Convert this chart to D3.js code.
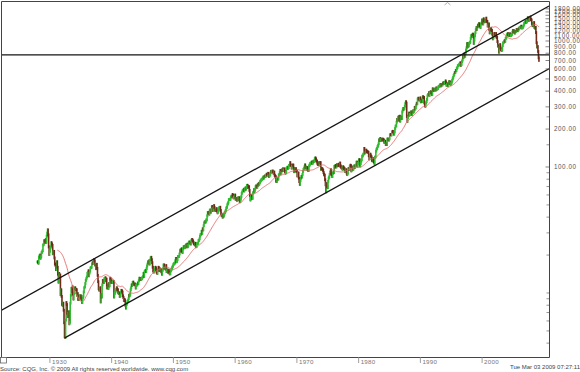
<!DOCTYPE html>
<html>
<head>
<meta charset="utf-8">
<script src="https://cdn.jsdelivr.net/npm/d3@7"></script>
<style>
  body { margin: 0; background: #fff; }
  text { font-family: "Liberation Sans", Arial, sans-serif; }
</style>
</head>
<body>
<svg id="chart" width="580" height="372"></svg>
<script>
// monthly closes, first value is Dec 1927
const close1920s = [17.66,
  17.57, 17.26, 19.28, 19.75, 20.0, 18.9, 19.4, 20.9, 21.2, 21.7, 24.0, 24.35,
  26.0, 25.9, 25.3, 26.5, 25.3, 28.3, 29.9, 31.7, 29.0, 23.2, 20.2, 21.45];
const close1930s = [
  22.8, 23.3, 25.1, 24.5, 23.9, 20.5, 21.2, 21.4, 19.0, 17.0, 16.6, 15.34,
  16.0, 17.7, 16.0, 14.1, 12.2, 14.3, 13.6, 13.9, 9.7, 10.6, 9.4, 8.12,
  8.0, 8.3, 7.3, 5.8, 4.5, 4.43, 6.1, 8.4, 8.1, 6.9, 6.5, 6.89,
  7.1, 5.7, 5.85, 8.3, 9.6, 10.9, 10.3, 11.2, 9.8, 8.96, 9.9, 10.1,
  11.0, 10.7, 10.7, 10.6, 9.6, 9.9, 8.9, 9.5, 8.9, 9.1, 9.5, 9.5,
  9.1, 8.9, 8.4, 9.1, 9.4, 10.2, 11.0, 11.2, 11.9, 12.6, 13.0, 13.4,
  14.3, 14.6, 15.0, 13.7, 14.4, 14.9, 15.8, 15.9, 16.0, 17.0, 17.4, 17.2,
  18.0, 18.4, 18.0, 16.7, 16.7, 15.6, 16.9, 15.7, 13.8, 12.3, 10.8, 10.55,
  10.9, 11.0, 8.5, 9.7, 9.3, 11.6, 12.6, 12.3, 12.1, 13.0, 13.1, 13.2,
  12.5, 12.9, 10.98, 11.0, 11.6, 10.9, 11.9, 11.4, 13.0, 12.9, 12.2, 12.5];
const close1940s = [
  12.1, 12.2, 12.2, 12.3, 9.3, 9.9, 10.2, 10.4, 10.7, 11.0, 10.7, 10.6,
  10.1, 9.9, 10.0, 9.4, 9.5, 10.0, 10.5, 10.4, 10.2, 9.5, 9.2, 8.7,
  8.9, 8.7, 8.0, 7.6, 8.1, 8.3, 8.6, 8.7, 9.0, 9.6, 9.5, 9.8,
  10.6, 11.0, 11.6, 11.5, 12.1, 12.2, 11.8, 11.7, 11.8, 11.6, 10.96, 11.5,
  11.6, 11.6, 12.0, 11.9, 12.5, 13.1, 12.9, 13.0, 12.8, 12.9, 13.0, 13.3,
  13.5, 14.3, 13.5, 14.7, 14.9, 15.1, 14.8, 15.6, 16.4, 17.0, 17.7, 17.4,
  18.0, 17.0, 18.2, 19.0, 19.2, 18.4, 17.4, 16.0, 14.96, 14.7, 14.7, 15.3,
  16.0, 15.8, 15.2, 14.6, 14.3, 15.2, 16.0, 15.8, 15.1, 15.5, 15.0, 15.3,
  14.7, 14.1, 15.1, 15.5, 16.7, 16.7, 15.8, 15.8, 15.5, 16.5, 14.8, 15.2,
  15.2, 14.6, 15.1, 14.7, 14.2, 14.2, 15.0, 15.3, 15.6, 16.0, 16.3, 16.8];
const close1950s = [
  17.0, 17.2, 17.3, 18.0, 18.8, 17.7, 17.8, 18.4, 19.5, 19.5, 19.5, 20.4,
  21.7, 22.0, 21.5, 22.4, 21.5, 21.0, 22.4, 23.3, 23.3, 22.9, 22.9, 23.8,
  24.1, 23.3, 24.4, 23.3, 23.9, 25.0, 25.4, 25.0, 25.0, 24.5, 26.0, 26.6,
  26.4, 25.9, 25.3, 24.6, 24.5, 24.1, 24.8, 23.3, 23.4, 24.5, 24.8, 24.8,
  26.1, 26.2, 26.9, 28.3, 29.2, 29.2, 30.9, 29.8, 32.3, 31.7, 34.2, 36.0,
  36.6, 36.8, 36.6, 38.0, 38.0, 41.0, 43.5, 43.2, 43.7, 42.3, 45.5, 45.5,
  43.8, 45.3, 48.5, 48.4, 45.2, 47.0, 49.4, 47.5, 45.4, 45.6, 45.1, 46.7,
  44.7, 43.3, 44.1, 45.7, 47.4, 47.4, 47.9, 45.2, 42.4, 41.1, 41.7, 40.0,
  41.7, 40.8, 42.1, 43.4, 44.1, 45.2, 47.2, 47.8, 50.1, 51.3, 52.5, 55.2,
  55.4, 55.4, 55.4, 57.6, 58.7, 58.5, 60.5, 59.6, 56.9, 57.5, 58.3, 59.9];
const close1960s = [
  55.6, 56.1, 55.3, 54.4, 55.8, 56.9, 55.5, 57.0, 53.5, 53.4, 55.5, 58.1,
  61.8, 63.4, 65.1, 65.3, 66.6, 64.6, 66.8, 68.1, 66.7, 68.6, 71.3, 71.6,
  68.8, 70.0, 69.6, 65.2, 59.6, 54.8, 58.2, 59.1, 56.3, 56.5, 62.3, 63.1,
  66.2, 64.3, 66.6, 69.8, 70.8, 69.4, 69.1, 72.5, 71.7, 74.0, 73.2, 75.0,
  77.0, 77.8, 79.0, 79.5, 80.4, 81.7, 83.2, 81.8, 84.2, 84.9, 84.4, 84.8,
  87.6, 87.4, 86.2, 89.1, 88.4, 84.1, 85.3, 87.2, 90.0, 92.4, 91.6, 92.4,
  92.9, 91.2, 89.2, 91.1, 86.1, 84.7, 83.6, 77.1, 76.6, 80.2, 80.5, 80.3,
  86.6, 86.8, 90.2, 94.0, 89.1, 90.6, 94.8, 93.6, 96.7, 93.9, 94.0, 96.5,
  92.2, 89.4, 90.2, 97.6, 98.7, 99.6, 97.7, 98.9, 102.9, 103.4, 108.4, 103.9,
  103.0, 98.1, 101.5, 103.7, 103.5, 97.7, 91.8, 95.5, 93.1, 97.1, 93.8, 92.1];
const close1970s = [
  85.0, 89.5, 89.6, 81.5, 76.6, 72.7, 78.1, 81.5, 84.3, 83.3, 87.2, 92.2,
  95.9, 97.0, 100.3, 103.9, 99.6, 99.7, 95.6, 99.0, 98.3, 94.2, 94.0, 102.1,
  103.9, 106.6, 107.2, 107.7, 109.5, 107.1, 107.4, 111.1, 110.6, 111.6, 116.7, 118.1,
  116.0, 111.7, 111.5, 107.0, 105.0, 104.3, 108.2, 104.3, 108.4, 108.3, 96.0, 97.6,
  96.6, 96.2, 94.0, 90.3, 87.3, 86.0, 79.3, 72.2, 63.5, 73.9, 70.0, 68.6,
  77.0, 81.6, 83.4, 87.3, 91.2, 95.2, 88.8, 86.9, 83.9, 89.0, 91.2, 90.2,
  100.9, 99.7, 102.8, 101.6, 100.2, 104.3, 103.4, 102.9, 105.2, 102.9, 102.1, 107.5,
  102.0, 99.8, 98.4, 98.4, 96.1, 100.5, 98.9, 96.8, 96.5, 92.3, 94.8, 95.1,
  89.3, 87.0, 89.2, 96.8, 97.2, 95.5, 100.7, 103.3, 102.5, 93.2, 94.7, 96.1,
  99.9, 96.3, 101.6, 101.8, 99.1, 102.9, 103.8, 109.3, 109.3, 101.8, 106.2, 107.9];
const close1980s = [
  114.2, 113.7, 102.1, 106.3, 111.2, 114.2, 121.7, 122.4, 125.5, 127.5, 140.5, 135.8,
  129.6, 131.3, 136.0, 132.8, 132.6, 131.2, 130.9, 122.8, 116.2, 121.9, 126.4, 122.6,
  120.4, 113.1, 112.0, 116.4, 111.9, 109.6, 107.1, 119.5, 120.4, 133.7, 138.5, 140.6,
  145.3, 148.1, 153.0, 164.4, 162.4, 168.1, 162.6, 164.4, 166.1, 163.6, 166.4, 164.9,
  163.4, 157.1, 159.2, 160.1, 150.6, 153.2, 150.7, 166.7, 166.1, 166.1, 163.6, 167.2,
  179.6, 181.2, 180.7, 179.8, 189.6, 191.9, 190.9, 188.6, 182.1, 189.8, 202.2, 211.3,
  211.8, 226.9, 238.9, 235.5, 247.4, 250.8, 236.1, 252.9, 231.3, 244.0, 249.2, 242.2,
  274.1, 284.2, 291.7, 288.4, 290.1, 304.0, 318.7, 329.8, 321.8, 251.8, 230.3, 247.1,
  257.1, 267.8, 258.9, 261.3, 262.2, 273.5, 272.0, 261.5, 271.9, 279.0, 273.7, 277.7,
  297.5, 288.9, 294.9, 309.6, 320.5, 318.0, 346.1, 351.5, 349.2, 340.4, 346.0, 353.4];
const close1990s = [
  329.1, 331.9, 339.9, 330.8, 361.2, 358.0, 356.2, 322.6, 306.1, 304.0, 322.2, 330.2,
  343.9, 367.1, 375.2, 375.3, 389.8, 371.2, 387.8, 395.4, 387.9, 392.5, 375.2, 417.1,
  408.8, 412.7, 403.7, 415.0, 415.4, 408.1, 424.2, 414.0, 417.8, 418.7, 431.4, 435.7,
  438.8, 443.4, 451.7, 440.2, 450.2, 450.5, 448.1, 463.6, 458.9, 467.8, 461.8, 466.5,
  481.6, 467.1, 445.8, 450.9, 456.5, 444.3, 458.3, 475.5, 462.7, 472.4, 453.7, 459.3,
  470.4, 487.4, 500.7, 514.7, 533.4, 544.8, 562.1, 561.9, 584.4, 581.5, 605.4, 615.9,
  636.0, 640.4, 645.5, 654.2, 669.1, 670.6, 640.0, 652.0, 687.3, 705.3, 757.0, 740.7,
  786.2, 790.8, 757.1, 801.3, 848.3, 885.1, 954.3, 899.5, 947.3, 914.6, 955.4, 970.4,
  980.3, 1049.3, 1101.8, 1111.8, 1090.8, 1133.8, 1120.7, 957.3, 1017.0, 1098.7, 1163.6, 1229.2,
  1279.6, 1238.3, 1286.4, 1335.2, 1301.8, 1372.7, 1328.7, 1320.4, 1282.7, 1362.9, 1388.9, 1469.3];
const close2000s = [
  1394.5, 1366.4, 1498.6, 1452.4, 1420.6, 1454.6, 1430.8, 1517.7, 1436.5, 1429.4, 1315.2, 1320.3,
  1366.0, 1239.9, 1160.3, 1249.5, 1255.8, 1224.4, 1211.2, 1133.6, 1040.9, 1059.8, 1139.5, 1148.1,
  1130.2, 1106.7, 1147.4, 1076.9, 1067.1, 989.8, 911.6, 916.1, 815.3, 885.8, 936.3, 879.8,
  855.7, 841.2, 848.2, 916.9, 963.6, 974.5, 990.3, 1008.0, 996.0, 1050.7, 1058.2, 1111.9,
  1131.1, 1144.9, 1126.2, 1107.3, 1120.7, 1140.8, 1101.7, 1104.2, 1114.6, 1130.2, 1173.8, 1211.9,
  1181.3, 1203.6, 1180.6, 1156.9, 1191.5, 1191.3, 1234.2, 1220.3, 1228.8, 1207.0, 1249.5, 1248.3,
  1280.1, 1280.7, 1294.8, 1310.6, 1270.1, 1270.2, 1276.7, 1303.8, 1335.9, 1377.9, 1400.6, 1418.3,
  1438.2, 1406.8, 1420.9, 1482.4, 1530.6, 1503.4, 1455.3, 1474.0, 1526.8, 1549.4, 1481.1, 1468.4,
  1378.6, 1330.6, 1322.7, 1385.6, 1400.4, 1280.0, 1267.4, 1282.8, 1166.4, 968.8, 896.2, 903.3,
  825.9, 735.1, 700.8];

// trend channel anchors (1937 top / 2007 top), lower line from the 1932 low, 2002 support
const channelTop = [{ date: new Date(1937, 2, 6), value: 18.7 }, { date: new Date(2007, 9, 9), value: 1565 }];
const channelLowStart = { date: new Date(1932, 5, 1), value: 4.4 };
const supportLevel = 776;

const yLabels = [100, 200, 300, 400, 500, 600, 700, 800, 900, 1000, 1100, 1200, 1300, 1400, 1500, 1600, 1700, 1800];
const yMinor = [4, 5, 6, 7, 8, 9, 10, 20, 30, 40, 50, 60, 70, 80, 90, 150, 250];
const xTickYears = [1930, 1940, 1950, 1960, 1970, 1980, 1990, 2000];
const maMonths = 40;

const width = 580, height = 372;
const plot = { left: 1, top: 1, right: 549, bottom: 357 };

const svg = d3.select("#chart");

const closes = [].concat(close1920s, close1930s, close1940s, close1950s,
  close1960s, close1970s, close1980s, close1990s, close2000s);
const data = closes.map((c, i) => ({
  date: new Date(1927, 11 + i, 15),
  close: c,
  prev: i ? closes[i - 1] : c
}));

const x = d3.scaleTime()
  .domain([new Date(1921, 11, 1), new Date(2010, 9, 31)])
  .range([0, plot.right]);

const y = d3.scaleLog()
  .domain([3.105, 2077])
  .range([plot.bottom, 1]);

svg.append("defs").append("clipPath").attr("id", "clip")
  .append("rect")
  .attr("x", plot.left).attr("y", plot.top)
  .attr("width", plot.right - plot.left).attr("height", plot.bottom - plot.top);

const g = svg.append("g").attr("clip-path", "url(#clip)");

// price bars: prev close -> close, with a little wick room
g.selectAll("rect.bar")
  .data(data)
  .join("rect")
  .attr("class", "bar")
  .attr("x", d => x(d.date) - 0.8)
  .attr("width", 1.6)
  .attr("y", d => y(Math.max(d.close, d.prev)) - 1.4)
  .attr("height", d => Math.abs(y(d.close) - y(d.prev)) + 2.8)
  .attr("fill", d => d.close >= d.prev ? "#30bb30" : "#6e2a1a");

// moving average
const ma = data.map((d, i) => i < maMonths - 1 ? null : {
  date: d.date,
  value: d3.mean(closes.slice(i - maMonths + 1, i + 1))
}).filter(d => d);

g.append("path")
  .datum(ma)
  .attr("fill", "none")
  .attr("stroke", "#e46a6a")
  .attr("stroke-width", 0.9)
  .attr("d", d3.line().x(d => x(d.date)).y(d => y(d.value)));

// channel
const slope = (Math.log10(channelTop[1].value) - Math.log10(channelTop[0].value)) /
  (channelTop[1].date - channelTop[0].date);
const along = (p, t) => Math.pow(10, Math.log10(p.value) + slope * (t - p.date));
const [d0, d1] = x.domain();

const line = d3.line().x(d => x(d.date)).y(d => y(d.value));
const chanLines = [
  [{ date: d0, value: along(channelTop[0], d0) }, { date: d1, value: along(channelTop[0], d1) }],
  [channelLowStart, { date: d1, value: along(channelLowStart, d1) }],
  [{ date: d0, value: supportLevel }, { date: d1, value: supportLevel }]
];
g.selectAll("path.chan")
  .data(chanLines)
  .join("path")
  .attr("class", "chan")
  .attr("fill", "none")
  .attr("stroke", "#151515")
  .attr("stroke-width", 1.3)
  .attr("d", line);

// frame
svg.append("path")
  .attr("fill", "none")
  .attr("stroke", "#444")
  .attr("stroke-width", 1)
  .attr("d", `M1.5,${plot.bottom}V1.5H${plot.right + 0.5}V${plot.bottom + 0.5}H0`);

// right axis
const yAxis = svg.append("g");
yAxis.selectAll("line.minor")
  .data(yMinor)
  .join("line")
  .attr("x1", plot.right - 2.5).attr("x2", plot.right)
  .attr("y1", d => y(d)).attr("y2", d => y(d))
  .attr("stroke", "#777").attr("stroke-width", 0.8);
yAxis.selectAll("line.major")
  .data(yLabels)
  .join("line")
  .attr("x1", plot.right - 3.5).attr("x2", plot.right)
  .attr("y1", d => y(d)).attr("y2", d => y(d))
  .attr("stroke", "#666").attr("stroke-width", 0.8);
yAxis.selectAll("text")
  .data(yLabels)
  .join("text")
  .attr("x", 554)
  .attr("y", d => y(d) + 2.2)
  .attr("font-size", 6.3)
  .attr("letter-spacing", 0.55)
  .attr("fill", "#555")
  .text(d3.format(".2f"));

// bottom axis
const xAxis = svg.append("g");
xAxis.selectAll("line")
  .data(xTickYears)
  .join("line")
  .attr("x1", d => x(new Date(d, 0, 1))).attr("x2", d => x(new Date(d, 0, 1)))
  .attr("y1", plot.bottom).attr("y2", plot.bottom + 6)
  .attr("stroke", "#888").attr("stroke-width", 0.8);
xAxis.selectAll("text")
  .data(xTickYears)
  .join("text")
  .attr("x", d => x(new Date(d, 0, 1)) + 2)
  .attr("y", plot.bottom + 6.5)
  .attr("font-size", 6.2)
  .attr("letter-spacing", 0.3)
  .attr("fill", "#777")
  .text(d => d);

// small scroll box and marker
svg.append("rect")
  .attr("x", 0.5).attr("y", plot.bottom + 0.5)
  .attr("width", 6).attr("height", 5.5)
  .attr("fill", "#fff").attr("stroke", "#666").attr("stroke-width", 0.8);
svg.append("path")
  .attr("d", "M444.5,5L447.5,2.5L450.5,5")
  .attr("fill", "none").attr("stroke", "#999").attr("stroke-width", 0.8);

// footer
svg.append("text")
  .attr("x", 0).attr("y", 371)
  .attr("font-size", 6)
  .attr("fill", "#444")
  .text("Source: CQG, Inc. © 2009 All rights reserved worldwide. www.cqg.com");
svg.append("text")
  .attr("x", width).attr("y", 369)
  .attr("text-anchor", "end")
  .attr("font-size", 6)
  .attr("fill", "#444")
  .text("Tue Mar 03 2009 07:27:11");
</script>
</body>
</html>
